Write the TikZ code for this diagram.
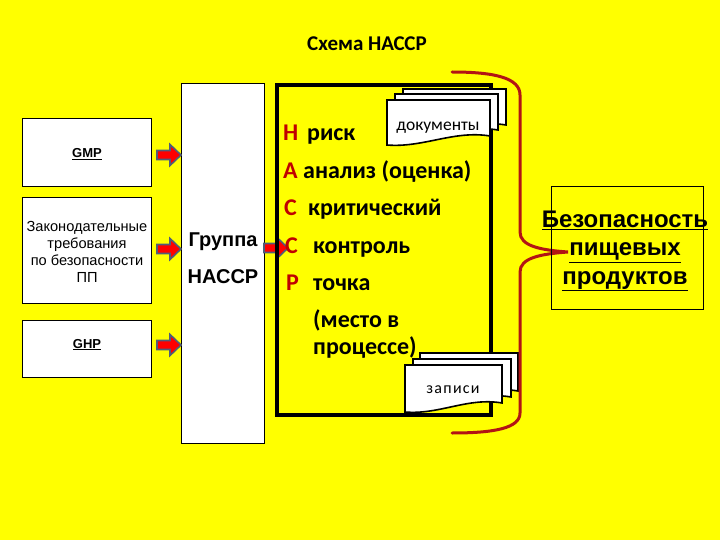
\documentclass[tikz,border=0pt]{standalone}
\usepackage{fontspec}
\setmainfont{Carlito}
\newfontfamily\arial{Liberation Sans}
\definecolor{bgyellow}{RGB}{255,255,0}
\definecolor{letterred}{RGB}{192,0,0}
\definecolor{bracered}{RGB}{178,20,20}
\definecolor{arrowgrey}{RGB}{80,92,120}
\tikzset{
  whitebox/.style={draw=black, line width=0.7pt, fill=white, inner sep=0pt},
  fatarrow/.style={fill=red, draw=arrowgrey, line width=1.6pt, line join=miter},
  redletter/.style={anchor=base west, inner sep=0pt, text=letterred, font=\fontsize{24}{28}\selectfont\bfseries},
  wordtext/.style={anchor=base west, inner sep=0pt, font=\fontsize{24}{28}\selectfont\bfseries},
  docstyle/.style={draw=black, line width=1.6pt, fill=white, line join=miter},
  pics/docpage/.style n args={2}{code={
    \path[docstyle] (0,0) -- (#1,0) -- (#1,#2) .. controls ({0.65*#1},{#2-6}) and ({0.35*#1},{#2+12}) .. (0,{#2+9}) -- cycle;
  }}
}
\begin{document}
\begin{tikzpicture}[x=1pt,y=-1pt]
\fill[bgyellow] (0,0) rectangle (720,540);
\useasboundingbox (0,0) rectangle (720,540);

% title
\node[anchor=base, inner sep=0pt, font=\fontsize{21}{24}\selectfont\bfseries] (title) at (367,51) {Схема НАССР};

% left boxes
\node[whitebox, minimum width=129pt, minimum height=68pt] (gmp) at (86.5,152) {};
\node[anchor=base, inner sep=0pt, font=\arial\fontsize{13}{15}\selectfont\bfseries] (gmpt) at (87,158) {\underline{GMP}};
\node[whitebox, minimum width=129pt, minimum height=106pt] (law) at (86.5,250) {};
\node[inner sep=0pt, align=center, font=\arial\fontsize{14.6}{16.8}\selectfont] (lawt) at (87,252) {Законодательные\\требования\\по безопасности\\ПП};
\node[whitebox, minimum width=129pt, minimum height=57pt] (ghp) at (86.5,348.5) {};
\node[anchor=base, inner sep=0pt, font=\arial\fontsize{13}{15}\selectfont\bfseries] (ghpt) at (87,348) {\underline{GHP}};

% group box
\node[whitebox, minimum width=83pt, minimum height=360pt] (grp) at (222.5,263) {};
\node[anchor=base, inner sep=0pt, font=\arial\fontsize{20}{23}\selectfont\bfseries] (grp1) at (223,247) {Группа};
\node[anchor=base, inner sep=0pt, font=\arial\fontsize{20}{23}\selectfont\bfseries] (grp2) at (223,283) {НАССР};

% arrows left boxes -> group
\coordinate (a1) at (157,155);
\coordinate (a2) at (157,249);
\coordinate (a3) at (157,345);
\coordinate (a4) at (264,248);
\foreach \c in {a1,a2,a3,a4}{
  \path[fatarrow] (\c) ++(0,-4.5) -- ++(13,0) -- ++(0,-6) -- ++(11,10.5) -- ++(-11,10.5) -- ++(0,-6) -- ++(-13,0) -- cycle;
}

% HACCP box
\node[draw=black, line width=4pt, minimum width=214pt, minimum height=329pt, inner sep=0pt] (haccp) at (384,250) {};

% letters and words
\node[redletter] (lH) at (283,141) {H};
\node[wordtext] (wH) at (307,141) {риск};
\node[redletter] (lA) at (283,179) {А};
\node[wordtext] (wA) at (303,179) {анализ (оценка)};
\node[redletter] (lC1) at (284,215) {С};
\node[wordtext] (wC1) at (308,215) {критический};
\node[redletter] (lC2) at (285,253) {С};
\node[wordtext] (wC2) at (313,253) {контроль};
\node[redletter] (lP) at (286,290) {Р};
\node[wordtext] (wP) at (313,290) {точка};
\node[wordtext] (wM1) at (313,327) {(место в};
\node[wordtext] (wM2) at (313,354) {процессе)};

% documents stack
\pic at (403,89) {docpage={103}{36}};
\pic at (395,94) {docpage={103}{36}};
\pic at (387,100) {docpage={103}{36}};
\node[anchor=base, inner sep=0pt, font=\fontsize{17.5}{20}\selectfont] (docs) at (438,131) {документы};

% records stack
\pic at (420,353) {docpage={98}{38}};
\pic at (413,359) {docpage={98}{38}};
\pic at (405,365) {docpage={97}{38}};
\node[anchor=base, inner sep=0pt, font=\fontsize{16}{18}\selectfont\addfontfeatures{LetterSpace=8}] (recs) at (453,393) {записи};

% brace
\coordinate (bt) at (452,72);
\coordinate (bb) at (452,433);
\coordinate (tip) at (568,252);
\draw[bracered, line width=3pt, line cap=round]
  (bt) .. controls (495,72) and (520,78) .. (520,95) -- (520,232)
  .. controls (520,246) and (540,250) .. (tip)
  .. controls (540,254) and (520,258) .. (520,272) -- (520,413)
  .. controls (520,428) and (495,433) .. (bb);

% result box
\node[draw=black, line width=0.7pt, minimum width=152pt, minimum height=123pt, inner sep=0pt] (safe) at (627,247.5) {};
\node[inner sep=0pt, align=center, font=\arial\fontsize{24}{28.5}\selectfont\bfseries] (safet) at (625,251) {\underline{Безопасность}\\\underline{пищевых}\\\underline{продуктов}};
\end{tikzpicture}
\end{document}
